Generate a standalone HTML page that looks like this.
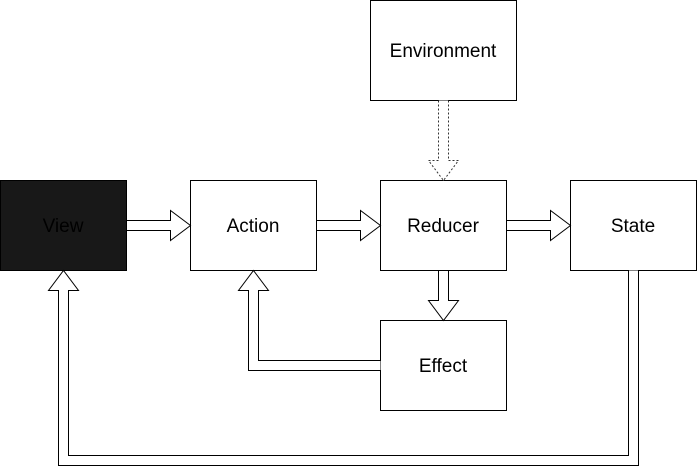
<!DOCTYPE html>
<html><head><style>body{margin:0;background:#fff}svg{display:block}</style></head>
<body>
<svg width="697" height="466" viewBox="0 0 697 466">
<g stroke="#000" stroke-width="1" fill="#fff">
<rect x="0.5" y="180.5" width="126" height="90" fill="#181818"/>
<rect x="190.5" y="180.5" width="126" height="90"/>
<rect x="380.5" y="180.5" width="126" height="90"/>
<rect x="570.5" y="180.5" width="126" height="90"/>
<rect x="370.5" y="0.5" width="146" height="100"/>
<rect x="380.5" y="320.5" width="126" height="90"/>
<path d="M126.5 220.5H170.5V210.5L190.5 225.5L170.5 240.5V230.5H126.5Z"/>
<path d="M316.5 220.5H360.5V210.5L380.5 225.5L360.5 240.5V230.5H316.5Z"/>
<path d="M506.5 220.5H550.5V210.5L570.5 225.5L550.5 240.5V230.5H506.5Z"/>
<path d="M438.5 270.5V300.5H428.5L443.5 320.5L458.5 300.5H448.5V270.5Z"/>
<path d="M438.5 100.5V160.5H428.5L443.5 180.5L458.5 160.5H448.5V100.5" stroke-dasharray="2,2" stroke="#333"/>
<path d="M380.5 360.5H258.5V290.5H268.5L253.5 270.5L238.5 290.5H248.5V370.5H380.5"/>
<path d="M628.5 270.5V455.5H68.5V290.5H78.5L63.5 270.5L48.5 290.5H58.5V465.5H638.5V270.5"/>
</g>
<g font-family="Liberation Sans, Arial, sans-serif" font-size="19" text-anchor="middle" fill="#000">
<text x="63" y="232">View</text>
<text x="253" y="232">Action</text>
<text x="443" y="232">Reducer</text>
<text x="633" y="232">State</text>
<text x="443" y="57">Environment</text>
<text x="443" y="372">Effect</text>
</g>
</svg>
</body></html>
